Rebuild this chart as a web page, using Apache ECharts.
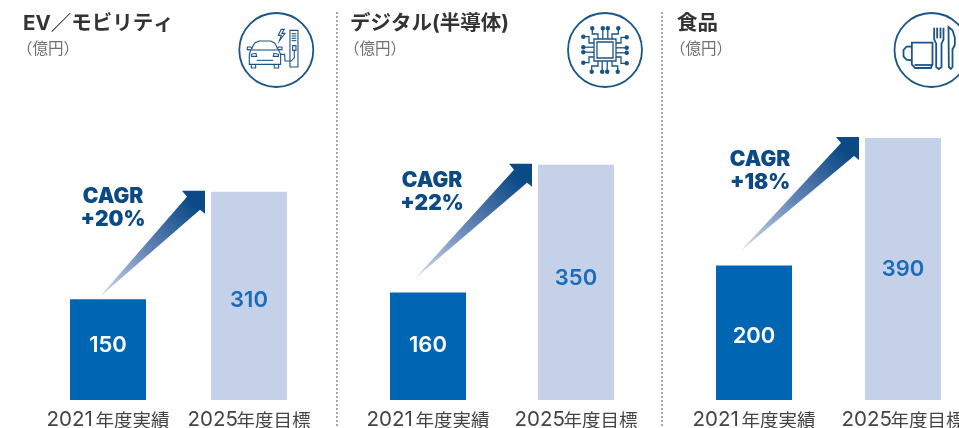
<!DOCTYPE html>
<html><head><meta charset="utf-8">
<style>html,body{margin:0;padding:0;background:#fff}#c{width:959px;height:428px}</style>
<script src="https://cdn.jsdelivr.net/npm/echarts@6/dist/echarts.min.js"></script>
</head><body><div id="c"></div>
<script>
const categories = ['2021年度実績', '2025年度目標'];
const panelTitles = ['EV／モビリティ', 'デジタル(半導体)', '食品'];
const unitLabel = '（億円）';
const evValues = [150, 310];
const digitalValues = [160, 350];
const foodValues = [200, 390];
const cagrLabels = ['+20%', '+22%', '+18%'];

const FONT = 'Inter, "Noto Sans CJK JP", sans-serif';
const JP = '"Noto Sans CJK JP", sans-serif';
const NAVY = '#0b4a85', ICON = '#1a5489';
const panels = [
  { values: evValues, left: 37.5, width: 282, titleX: 23, subX: 17, tail: [-8.7, -2], shift: [-4, 5], cagr: [113, 196], icon: [276.3, 50] },
  { values: digitalValues, left: 354, width: 296, titleX: 350, subX: 344, tail: [-13, -14], shift: [-1, -4], cagr: [432, 180], icon: [605, 50] },
  { values: foodValues, left: 679.5, width: 298, titleX: 677, subX: 670, tail: [-13, -15], shift: [4, 0], cagr: [760, 159], icon: [931.5, 50] }
];

/* ---------- icon helpers ---------- */
let iconWidth = 1.4;
const base = () => ({ stroke: ICON, lineWidth: iconWidth, fill: 'none' });
function pl(o, pts, s, closed) {
  const points = pts.map(p => [o[0] + p[0] * s, o[1] + p[1] * s]);
  return { type: closed ? 'polygon' : 'polyline', silent: true, shape: { points }, style: base() };
}
function dot(o, x, y, r, fill) {
  return { type: 'circle', silent: true, shape: { cx: o[0] + x, cy: o[1] + y, r }, style: { ...base(), fill: fill || 'none' } };
}
function ring(c) {
  return { type: 'circle', silent: true, shape: { cx: c[0], cy: c[1], r: 37 }, style: { ...base(), lineWidth: 1.8 } };
}
function carIcon(c) {
  iconWidth = 1.1;
  const o = [c[0] - 127 / 3, c[1] - 127 / 3], s = 1 / 3, e = [];
  e.push(pl(o, [[50,128],[62,106],[75,100],[110,100],[122,106],[134,128],[140,140],[140,170],[46,170],[46,140]], s, true));
  e.push(pl(o, [[52,127],[132,127]], s));
  e.push(pl(o, [[50,126],[40,126],[40,118],[50,118],[56,122]], s));
  e.push(pl(o, [[134,126],[144,126],[144,118],[134,118],[128,122]], s));
  e.push(pl(o, [[52,140],[66,137],[68,146],[53,146]], s, true));
  e.push(pl(o, [[134,140],[120,137],[118,146],[133,146]], s, true));
  e.push(pl(o, [[52,170],[52,181],[65,181],[65,170]], s));
  e.push(pl(o, [[121,170],[121,181],[134,181],[134,170]], s));
  e.push(pl(o, [[68,158],[118,158]], s));
  e.push(pl(o, [[140,140],[152,140],[153,160],[172,160],[181,150],[181,128]], s));
  e.push(pl(o, [[168,68],[192,68],[192,178],[168,178]], s, true));
  [78, 85, 92, 99].forEach(y => e.push(pl(o, [[173,y],[187,y]], s)));
  e.push(pl(o, [[176,114],[186,114],[186,128],[176,128]], s, true));
  e.push(pl(o, [[142,65],[133,83],[142,83],[136,100],[153,77],[144,77],[151,65]], s, true));
  return e;
}
function chipIcon(c) {
  iconWidth = 1.3;
  const e = [];
  const sq = h => ({ type: 'rect', silent: true, shape: { x: c[0] - h, y: c[1] - h, width: 2 * h, height: 2 * h }, style: base() });
  e.push(sq(11), sq(8));
  const leads = [
    [[-12.7,-21.7],[-12.7,-16],[-7,-16],[-7,-11]],
    [[-2.2,-21.7],[-2.2,-11]],
    [[2.8,-21.7],[2.8,-11]],
    [[13.3,-21.7],[13.3,-16],[7,-16],[7,-11]]
  ];
  [[1,0,0,1],[0,-1,1,0],[-1,0,0,-1],[0,1,-1,0]].forEach(m => {
    leads.forEach(l => {
      const t = l.map(p => [m[0]*p[0]+m[1]*p[1], m[2]*p[0]+m[3]*p[1]]);
      e.push(pl(c, t, 1));
      e.push(dot(c, t[0][0], t[0][1], 1.6, ICON));
    });
  });
  return e;
}
function foodIcon(c) {
  iconWidth = 1.8;
  const o = [c[0] - 127 / 3, c[1] - 127 / 3], s = 1 / 3, e = [];
  e.push(pl(o, [[68,105],[130,105],[130,170],[125,181],[78,181],[68,170]], s, true));
  e.push(pl(o, [[76,172],[130,172]], s));
  e.push(pl(o, [[68,117],[52,117],[43,127],[43,146],[52,156],[68,158]], s));
  e.push(pl(o, [[135,60],[135,95],[141,108],[141,178],[149,184],[157,178],[157,108],[163,95],[163,60]], s));
  e.push(pl(o, [[144,60],[144,92]], s));
  e.push(pl(o, [[154,60],[154,92]], s));
  e.push(pl(o, [[178,58],[190,68],[197,90],[197,112],[190,125],[190,178],[185,184],[179,178]], s, true));
  return e;
}

/* ---------- option ---------- */
const grid = [], xAxis = [], yAxis = [], series = [], title = [];
panels.forEach((p, i) => {
  grid.push({ left: p.left, width: p.width, top: 97.6, height: 302.4, outerBoundsMode: 'none', containLabel: false });
  xAxis.push({
    type: 'category', gridIndex: i, data: categories,
    axisLine: { show: false }, axisTick: { show: false },
    axisLabel: {
      margin: 10, interval: 0, hideOverlap: false,
      formatter: v => '{d|' + v.slice(0, 4) + '}{j|' + v.slice(4) + '}',
      rich: {
        d: { fontFamily: FONT, fontSize: 20.5, color: '#444', width: 49, align: 'left' },
        j: { fontFamily: JP, fontSize: 18.5, color: '#444' }
      }
    }
  });
  yAxis.push({ type: 'value', gridIndex: i, min: 0, max: 450, show: false, splitLine: { show: false } });
  series.push({
    type: 'bar', xAxisIndex: i, yAxisIndex: i, barWidth: 76, silent: true,
    data: p.values.map((v, k) => ({
      value: v,
      itemStyle: { color: k === 0 ? '#0066b3' : '#c5d1e9' },
      label: {
        show: true, position: 'inside', offset: [0, p.shift[k]], formatter: '{c}',
        fontFamily: FONT, fontSize: 22, fontWeight: 600,
        color: k === 0 ? '#fff' : '#1a6cb8'
      }
    }))
  });
  series.push({
    type: 'custom', xAxisIndex: i, yAxisIndex: i, silent: true, clip: false, z: 3,
    data: [[0, p.values[0], p.values[1]]],
    renderItem: (params, api) => {
      const a = api.coord([0, api.value(1)]);
      const b = api.coord([1, api.value(2)]);
      const tail = [a[0] + p.tail[0], a[1] + p.tail[1]];
      const tip = [b[0] - 44, b[1] - 1];
      const pts = [tail, [tip[0]-18, tip[1]+6], [tip[0]-23, tip[1]], tip, [tip[0], tip[1]+23], [tip[0]-5, tip[1]+19]];
      return {
        type: 'polygon', shape: { points: pts },
        style: {
          fill: new echarts.graphic.LinearGradient(tail[0], tail[1], tip[0], tip[1], [
            { offset: 0, color: '#d3dcee' }, { offset: 0.45, color: '#6484b6' }, { offset: 0.88, color: NAVY }, { offset: 1, color: NAVY }
          ], true)
        }
      };
    }
  });
  title.push({ text: panelTitles[i], left: p.titleX, top: 14, padding: 0, textStyle: { fontFamily: FONT, fontSize: 20.5, fontWeight: 700, color: '#333' } });
  title.push({ text: unitLabel, left: p.subX, top: 40, padding: 0, textStyle: { fontFamily: JP, fontSize: 15.5, fontWeight: 400, color: '#707070' } });
});

const graphicEls = [];
[337, 662].forEach(x => graphicEls.push({
  type: 'line', silent: true, shape: { x1: x, y1: 12, x2: x, y2: 428 },
  style: { stroke: '#555', lineWidth: 1, lineDash: [2, 2] }
}));
panels.forEach((p, i) => {
  graphicEls.push({
    type: 'text', silent: true, x: p.cagr[0], y: p.cagr[1] - 11,
    style: { text: 'CAGR\n' + cagrLabels[i], fontFamily: FONT, fontSize: 21, fontWeight: 900, fill: NAVY, align: 'center', verticalAlign: 'top', lineHeight: 23 }
  });
  graphicEls.push(ring(p.icon));
});
graphicEls.push(...carIcon(panels[0].icon), ...chipIcon(panels[1].icon), ...foodIcon(panels[2].icon));

const chart = echarts.init(document.getElementById('c'), null, { renderer: 'canvas' });
chart.setOption({ animation: false, backgroundColor: '#fff', title, grid, xAxis, yAxis, series, graphic: { elements: graphicEls } });
</script></body></html>
